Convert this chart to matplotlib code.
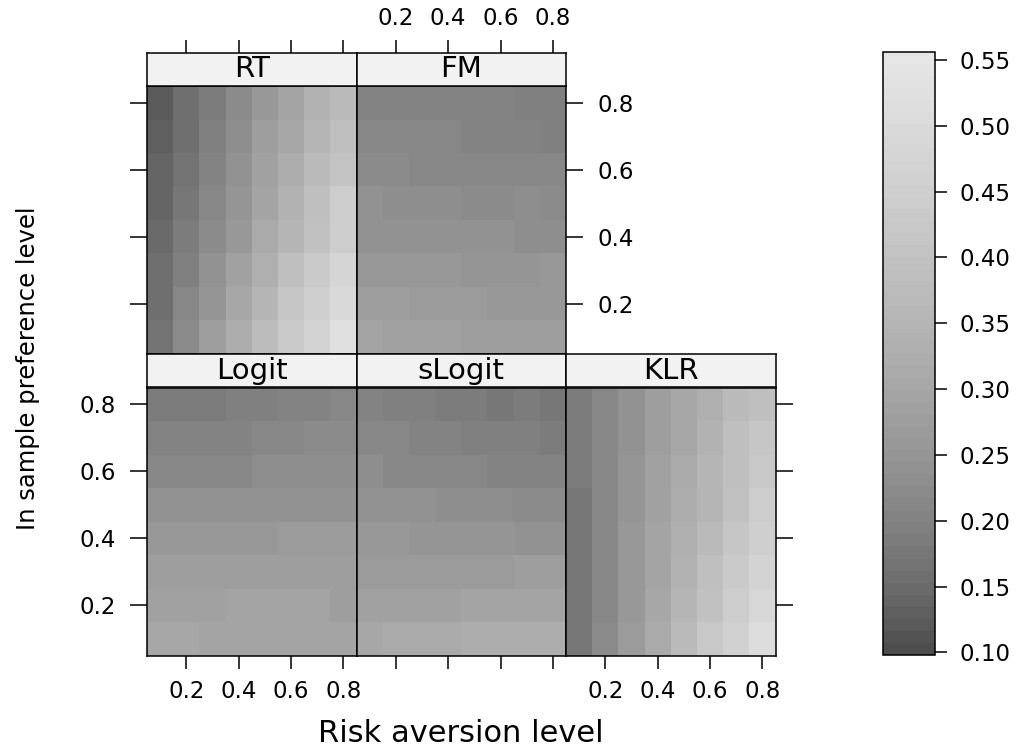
import numpy as np
import matplotlib.pyplot as plt
from matplotlib.colors import ListedColormap, BoundaryNorm
from matplotlib.patches import Rectangle

plt.rcParams["font.family"] = ["DejaVu Sans"]

# grid of the levelplot
risk = [0.1, 0.2, 0.3, 0.4, 0.5, 0.6, 0.7, 0.8]
pref = [0.8, 0.7, 0.6, 0.5, 0.4, 0.3, 0.2, 0.1]  # row order below (top to bottom)

rt = [
    [0.125, 0.158, 0.188, 0.223, 0.261, 0.298, 0.338, 0.367],
    [0.129, 0.162, 0.193, 0.233, 0.273, 0.305, 0.353, 0.390],
    [0.135, 0.170, 0.202, 0.244, 0.286, 0.318, 0.367, 0.405],
    [0.143, 0.179, 0.212, 0.250, 0.298, 0.338, 0.382, 0.437],
    [0.146, 0.184, 0.223, 0.261, 0.311, 0.353, 0.397, 0.446],
    [0.154, 0.197, 0.239, 0.286, 0.332, 0.382, 0.429, 0.480],
    [0.162, 0.212, 0.250, 0.305, 0.353, 0.413, 0.454, 0.497],
    [0.170, 0.223, 0.273, 0.318, 0.375, 0.429, 0.471, 0.524],
]
fm = [
    [0.207, 0.207, 0.202, 0.202, 0.202, 0.202, 0.193, 0.193],
    [0.212, 0.212, 0.212, 0.212, 0.202, 0.202, 0.202, 0.197],
    [0.223, 0.223, 0.217, 0.217, 0.217, 0.217, 0.212, 0.212],
    [0.239, 0.233, 0.233, 0.233, 0.223, 0.223, 0.228, 0.223],
    [0.244, 0.244, 0.239, 0.239, 0.239, 0.239, 0.233, 0.233],
    [0.261, 0.256, 0.256, 0.256, 0.250, 0.250, 0.250, 0.256],
    [0.273, 0.273, 0.267, 0.267, 0.267, 0.261, 0.261, 0.261],
    [0.292, 0.286, 0.286, 0.286, 0.279, 0.279, 0.273, 0.279],
]
logit = [
    [0.184, 0.188, 0.188, 0.197, 0.197, 0.207, 0.207, 0.212],
    [0.202, 0.202, 0.207, 0.207, 0.212, 0.212, 0.223, 0.223],
    [0.212, 0.212, 0.217, 0.217, 0.228, 0.228, 0.228, 0.233],
    [0.239, 0.239, 0.239, 0.239, 0.244, 0.244, 0.244, 0.244],
    [0.256, 0.256, 0.256, 0.256, 0.256, 0.267, 0.267, 0.267],
    [0.273, 0.273, 0.273, 0.279, 0.279, 0.279, 0.279, 0.279],
    [0.286, 0.286, 0.286, 0.292, 0.292, 0.292, 0.292, 0.279],
    [0.305, 0.305, 0.298, 0.298, 0.298, 0.298, 0.292, 0.292],
]
slogit = [
    [0.207, 0.197, 0.193, 0.188, 0.184, 0.179, 0.184, 0.175],
    [0.212, 0.212, 0.202, 0.202, 0.193, 0.193, 0.197, 0.188],
    [0.228, 0.217, 0.217, 0.212, 0.212, 0.207, 0.207, 0.202],
    [0.239, 0.239, 0.239, 0.228, 0.228, 0.228, 0.223, 0.223],
    [0.256, 0.256, 0.250, 0.250, 0.250, 0.250, 0.244, 0.244],
    [0.267, 0.267, 0.267, 0.267, 0.267, 0.267, 0.279, 0.279],
    [0.286, 0.286, 0.286, 0.286, 0.298, 0.298, 0.298, 0.298],
    [0.305, 0.311, 0.311, 0.311, 0.318, 0.318, 0.325, 0.325],
]
klr = [
    [0.182, 0.212, 0.244, 0.279, 0.305, 0.332, 0.367, 0.390],
    [0.182, 0.212, 0.244, 0.279, 0.305, 0.338, 0.382, 0.413],
    [0.182, 0.212, 0.250, 0.286, 0.311, 0.346, 0.390, 0.421],
    [0.179, 0.212, 0.250, 0.286, 0.318, 0.353, 0.397, 0.437],
    [0.175, 0.212, 0.256, 0.292, 0.332, 0.367, 0.413, 0.454],
    [0.175, 0.217, 0.256, 0.298, 0.338, 0.382, 0.429, 0.471],
    [0.172, 0.217, 0.261, 0.305, 0.353, 0.397, 0.446, 0.488],
    [0.175, 0.223, 0.267, 0.311, 0.367, 0.421, 0.462, 0.506],
]

ticks = [0.2, 0.4, 0.6, 0.8]
cbar_ticks = [0.10, 0.15, 0.20, 0.25, 0.30, 0.35, 0.40, 0.45, 0.50, 0.55]

W, H = 1023, 754
fig = plt.figure(figsize=(W / 100, H / 100), dpi=100)


def box(x0, y0, x1, y1):
    return [x0 / W, 1 - y1 / H, (x1 - x0) / W, (y1 - y0) / H]


# R gray.colors(start=0.3, end=0.9, gamma=2.2)
levels = np.linspace(0.098, 0.556, 51)
n = len(levels) - 1
g = (0.3**2.2 + (0.9**2.2 - 0.3**2.2) * np.linspace(0, 1, n)) ** (1 / 2.2)
cmap = ListedColormap(np.column_stack([g, g, g]))
norm = BoundaryNorm(levels, n)

LW = 1.1
FS = 16.5


def panel(name, z, x0, ytop, left=None, right=None, bottom=None, top=None):
    x1 = x0 + 209.5
    ys = ytop + 33.5
    yb = ys + 268
    ax = fig.add_axes(box(x0, ys, x1, yb))
    mesh = ax.pcolormesh(risk, pref, np.array(z), cmap=cmap, norm=norm,
                         shading="nearest")
    ax.set_xlim(0.05, 0.85)
    ax.set_ylim(0.05, 0.85)
    ax.set_xticks(ticks)
    ax.set_yticks(ticks)
    ax.set_xticklabels(["0.2", "0.4", "0.6", "0.8"])
    ax.set_yticklabels(["0.2", "0.4", "0.6", "0.8"])
    for s in ax.spines.values():
        s.set_linewidth(LW)
    ax.tick_params(axis="y", direction="out", length=12.5, width=LW, pad=10,
                   labelsize=FS,
                   left=left is not None, labelleft=bool(left),
                   right=right is not None, labelright=bool(right))
    ax.tick_params(axis="x", direction="out", length=9.5, width=LW, pad=8,
                   labelsize=FS,
                   bottom=bottom is not None, labelbottom=bool(bottom),
                   top=False, labeltop=False)

    st = fig.add_axes(box(x0, ytop, x1, ys))
    st.set_xlim(0.05, 0.85)
    st.set_ylim(0, 1)
    st.add_patch(Rectangle((0, 0), 1, 1, transform=st.transAxes,
                           facecolor="#f2f2f2", edgecolor="none"))
    st.text(0.5, 0.5, name, transform=st.transAxes, ha="center", va="center",
            fontsize=21)
    for s in st.spines.values():
        s.set_linewidth(LW)
    st.set_yticks([])
    st.set_xticks(ticks)
    st.set_xticklabels(["0.2", "0.4", "0.6", "0.8"])
    st.tick_params(axis="x", direction="out", length=9.5, width=LW, pad=7,
                   labelsize=FS, bottom=False, labelbottom=False,
                   top=top is not None, labeltop=bool(top))
    return mesh


mesh = panel("RT", rt, 147, 52.5, left=False, top=False)
panel("FM", fm, 356.5, 52.5, right=True, top=True)
panel("Logit", logit, 147, 354, left=True, bottom=True)
panel("sLogit", slogit, 356.5, 354, bottom=False)
panel("KLR", klr, 566, 354, right=False, bottom=True)

cax = fig.add_axes(box(883, 52, 935, 655))
cb = fig.colorbar(mesh, cax=cax, ticks=cbar_ticks)
cb.minorticks_off()
cb.ax.set_yticklabels(["%.2f" % t for t in cbar_ticks])
cb.ax.tick_params(length=8.5, width=LW, pad=9, labelsize=FS)
cb.outline.set_linewidth(LW)
cb.ax.set_ylim(0.098, 0.556)

fig.text(461 / W, 1 - 733 / H, "Risk aversion level", ha="center",
         va="center", fontsize=22)
fig.text(28 / W, 1 - 368 / H, "In sample preference level", ha="center",
         va="center", rotation=90, fontsize=17.5)

fig.savefig("out.png", dpi=100)
